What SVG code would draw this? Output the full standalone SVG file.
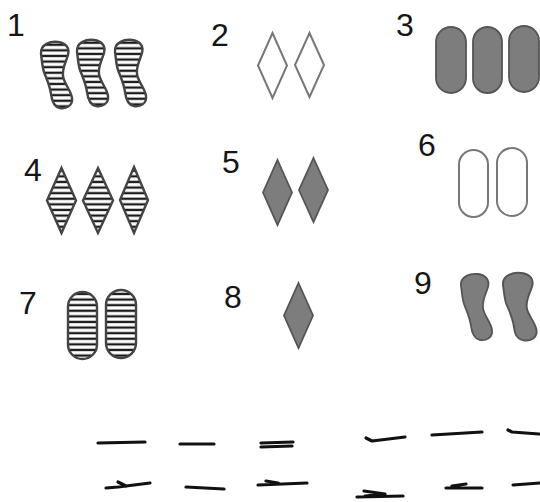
<svg xmlns="http://www.w3.org/2000/svg" width="540" height="502" viewBox="0 0 540 502">
<style>
.lbl{font-family:"Liberation Sans","DejaVu Sans",sans-serif;font-size:32px;fill:#151515}
.hat{fill:url(#h);stroke:#444;stroke-width:2.4}
.open{fill:#fff;stroke:#777;stroke-width:2}
.full{fill:#7d7d7d;stroke:#555;stroke-width:1.8}
.dash{fill:none;stroke:#111;stroke-width:3.2;stroke-linecap:round;stroke-linejoin:round}
</style>
<defs>
<pattern id="h" patternUnits="userSpaceOnUse" width="10" height="5.6">
<rect width="10" height="5.6" fill="#fff"/>
<rect y="1.6" width="10" height="2.3" fill="#1a1a1a"/>
</pattern>
<path id="sq" d="M0,12 C-1,2 10,-1 17,0 C24,1 29,5 27,13 C25,20 21,26 22,34 C23,42 30,48 31,56 C32,64 25,67 19,66 C13,65 11,60 10,52 C9,44 6,38 3,30 C1,24 1,18 0,12 Z"/>
</defs>
<rect width="540" height="502" fill="#fff"/>

<g id="card1">
<text class="lbl" x="7" y="36">1</text>
<use href="#sq" class="hat" x="41" y="42"/>
<use href="#sq" class="hat" x="77" y="40"/>
<use href="#sq" class="hat" x="115" y="40"/>
</g>

<g id="card2">
<text class="lbl" x="211" y="46">2</text>
<polygon class="open" points="272.5,33 287,65.5 272.5,98 258,65.5"/>
<polygon class="open" points="309.5,33 324,65 309.5,97 295,65"/>
</g>

<g id="card3">
<text class="lbl" x="396" y="36">3</text>
<rect class="full" x="436" y="27" width="30" height="66" rx="15"/>
<rect class="full" x="473" y="27" width="29" height="66" rx="14.5"/>
<rect class="full" x="509" y="26" width="30" height="66" rx="15"/>
</g>

<g id="card4">
<text class="lbl" x="24" y="181">4</text>
<polygon class="hat" points="61.5,168 76,200.5 61.5,233 47,200.5"/>
<polygon class="hat" points="98,168 113,200.5 98,233 83,200.5"/>
<polygon class="hat" points="134,167 148,200 134,233 120,200"/>
</g>

<g id="card5">
<text class="lbl" x="222" y="173">5</text>
<polygon class="full" points="277.5,160 292,192.5 277.5,225 263,192.5"/>
<polygon class="full" points="313.5,158 328,190 313.5,222 299,190"/>
</g>

<g id="card6">
<text class="lbl" x="418" y="156">6</text>
<rect class="open" x="459" y="150" width="29" height="67" rx="14.5"/>
<rect class="open" x="497" y="148" width="30" height="68" rx="15"/>
</g>

<g id="card7">
<text class="lbl" x="19" y="314">7</text>
<rect class="hat" x="68" y="292" width="29" height="67" rx="14.5"/>
<rect class="hat" x="106" y="290" width="30" height="68" rx="15"/>
</g>

<g id="card8">
<text class="lbl" x="224" y="308">8</text>
<polygon class="full" points="298.5,283 313,315.5 298.5,348 284,315.5"/>
</g>

<g id="card9">
<text class="lbl" x="414" y="294">9</text>
<use href="#sq" class="full" x="461" y="274"/>
<use href="#sq" class="full" x="503" y="273" transform="translate(503 273) scale(1.08 1.02) translate(-503 -273)"/>
</g>

<g id="marks">
<path class="dash" d="M98,443 L145,442"/>
<path class="dash" d="M180,444 L214,444"/>
<path class="dash" d="M261,443 L293,442 M261,447 L292,446"/>
<path class="dash" d="M366,438 L372,441 L405,437"/>
<path class="dash" d="M432,435 L482,432"/>
<path class="dash" d="M508,430 L512,432 L539,434"/>
<path class="dash" d="M106,488 L118,487 L150,483 M118,482 L126,486"/>
<path class="dash" d="M186,487 L224,489"/>
<path class="dash" d="M258,485 L307,483 M266,481 L278,483"/>
<path class="dash" d="M357,497 L403,496 M364,491 L385,494 L365,496"/>
<path class="dash" d="M446,488 L482,488 M452,486 L466,484"/>
<path class="dash" d="M513,485 L540,483"/>
</g>
</svg>
